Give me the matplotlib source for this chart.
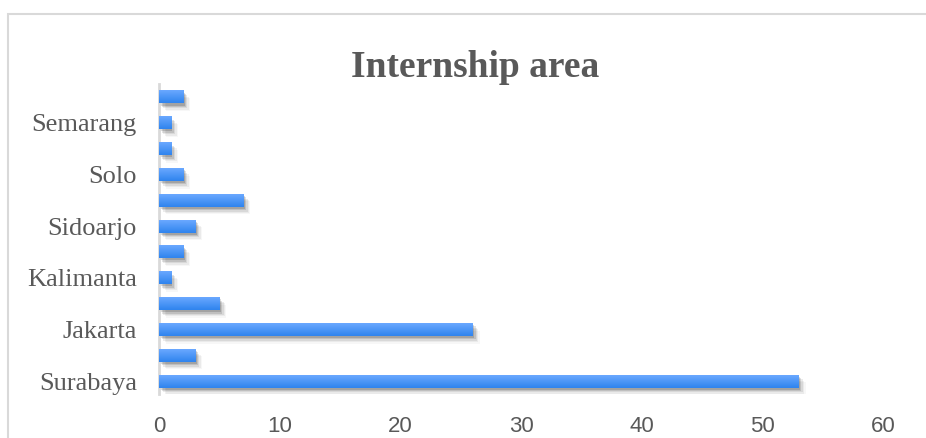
import numpy as np
import matplotlib.pyplot as plt
import matplotlib.patheffects as pe
from matplotlib.patches import Rectangle
from matplotlib.colors import LinearSegmentedColormap

# Internship locations (Excel only shows every second label)
cities = ["Surabaya", "", "Jakarta", "", "Kalimanta", "",
          "Sidoarjo", "", "Solo", "", "Semarang", ""]
counts = [53, 3, 26, 5, 1, 2, 3, 7, 2, 1, 1, 2]
x_ticks = [0, 10, 20, 30, 40, 50, 60]

fig = plt.figure(figsize=(9.26, 4.38), dpi=100)
ax = fig.add_axes([0.1717, 0.1005, 0.782, 0.7075])

# chart area border
fig.patches.append(Rectangle((8 / 926, -0.1), 1.2, (438 - 14) / 438 + 0.1,
                             transform=fig.transFigure, fill=False,
                             edgecolor="#d9d9d9", linewidth=1.5))

ypos = np.arange(len(counts))
bar_h = 0.5

# soft drop shadow, a few stacked translucent layers
shadow = [pe.SimplePatchShadow(offset=(dx, dy), shadow_rgbFace="black", alpha=a)
          for dx, dy, a in [(1.0, -1.5, 0.14), (2.0, -2.5, 0.11),
                            (3.0, -3.5, 0.08), (4.0, -4.5, 0.05), (5.0, -5.5, 0.03)]]
bars = ax.barh(ypos, counts, height=bar_h, color="#4a94f5", zorder=2,
               path_effects=shadow + [pe.Normal()])

# vertical gradient on each bar, lighter on top
grad = LinearSegmentedColormap.from_list("bar", ["#2f84ee", "#6aa8ff"])
g = np.linspace(0, 1, 64).reshape(-1, 1)
for y, v in zip(ypos, counts):
    ax.imshow(g, cmap=grad, aspect="auto", origin="lower", zorder=3,
              extent=(0, v, y - bar_h / 2, y + bar_h / 2), interpolation="bilinear")

ax.set_xlim(0, 60)
ax.set_ylim(-0.5, len(counts) - 0.5)
ax.set_xticks(x_ticks)
ax.set_yticks(ypos)
ax.set_yticklabels(cities, family="Liberation Serif", fontsize=19, color="#595959")
for lbl in ax.get_xticklabels():
    lbl.set_family("Liberation Sans")
ax.tick_params(axis="x", labelsize=16, labelcolor="#595959", length=0, pad=16)
ax.tick_params(axis="y", length=0, pad=16)

for side in ["top", "right", "bottom"]:
    ax.spines[side].set_visible(False)
ax.spines["left"].set_color("#d9d9d9")
ax.spines["left"].set_linewidth(2)

fig.text(0.513, 0.847, "Internship area", ha="center", va="center",
         family="Liberation Serif", fontweight="bold", fontsize=27, color="#595959")

fig.savefig("out.png", dpi=100)
